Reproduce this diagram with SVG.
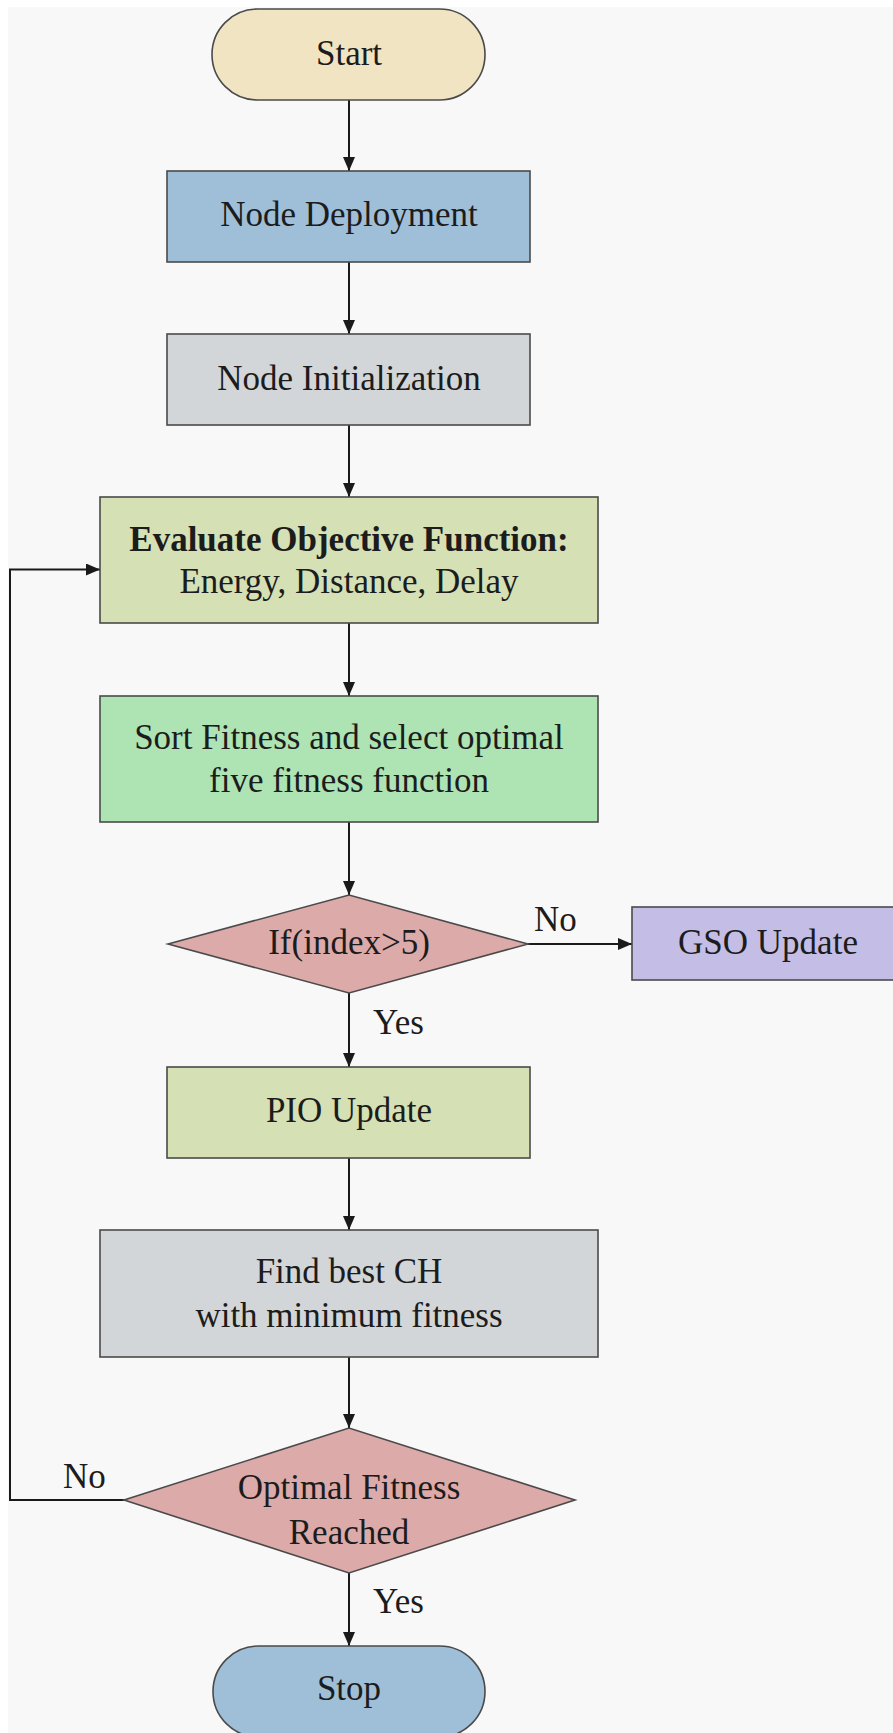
<svg xmlns="http://www.w3.org/2000/svg" width="893" height="1733" viewBox="0 0 893 1733">
  <defs>
    <marker id="arrow" viewBox="0 0 14 12" refX="14" refY="6" markerWidth="14" markerHeight="12" markerUnits="userSpaceOnUse" orient="auto">
      <path d="M0,0 L14,6 L0,12 Z" fill="#1a1a1a"/>
    </marker>
    <style>
      .box { stroke: #4a4a4a; stroke-width: 1.6; }
      .lbl { font-family: "Liberation Serif", "Times New Roman", serif; font-size: 35px; fill: #1c1c1c; text-anchor: middle; }
      .tag { font-family: "Liberation Serif", "Times New Roman", serif; font-size: 35px; fill: #1c1c1c; }
      .bold { font-weight: bold; }
      .edge { fill: none; stroke: #1a1a1a; stroke-width: 2; marker-end: url(#arrow); }
      .cream { fill: #F0E4C2; }
      .blue { fill: #9FBFD8; }
      .grey { fill: #D3D6D8; }
      .olive { fill: #D5E0B5; }
      .mint { fill: #AEE3B4; }
      .rose { fill: #DDAAAA; }
      .lilac { fill: #C4BEE6; }
    </style>
  </defs>

  <!-- page background: white margin on top and left, light grey sheet -->
  <rect x="0" y="0" width="893" height="1733" fill="#FFFFFF"/>
  <rect x="8" y="7" width="885" height="1726" fill="#F8F8F8"/>

  <!-- connectors -->
  <g id="connectors">
    <path class="edge" d="M349,100 L349,171"/>
    <path class="edge" d="M349,262 L349,334"/>
    <path class="edge" d="M349,425 L349,497"/>
    <path class="edge" d="M349,623 L349,696"/>
    <path class="edge" d="M349,822 L349,895"/>
    <path class="edge" d="M528,944 L632,944"/>
    <path class="edge" d="M349,993 L349,1067"/>
    <path class="edge" d="M349,1158 L349,1230"/>
    <path class="edge" d="M349,1357 L349,1428"/>
    <path class="edge" d="M349,1573 L349,1646"/>
    <path class="edge" d="M124,1500 L10,1500 L10,569.5 L100,569.5"/>
    <text class="tag" x="534" y="931">No</text>
    <text class="tag" x="373" y="1034">Yes</text>
    <text class="tag" x="63" y="1488">No</text>
    <text class="tag" x="373" y="1613">Yes</text>
  </g>

  <g id="start">
    <rect class="box cream" x="212" y="9" width="273" height="91" rx="45.5" ry="45.5"/>
    <text class="lbl" x="349" y="65">Start</text>
  </g>

  <g id="node-deployment">
    <rect class="box blue" x="167" y="171" width="363" height="91"/>
    <text class="lbl" x="349" y="226">Node Deployment</text>
  </g>

  <g id="node-initialization">
    <rect class="box grey" x="167" y="334" width="363" height="91"/>
    <text class="lbl" x="349" y="390">Node Initialization</text>
  </g>

  <g id="evaluate">
    <rect class="box olive" x="100" y="497" width="498" height="126"/>
    <text class="lbl bold" x="349" y="551">Evaluate Objective Function:</text>
    <text class="lbl" x="349" y="593">Energy, Distance, Delay</text>
  </g>

  <g id="sort-fitness">
    <rect class="box mint" x="100" y="696" width="498" height="126"/>
    <text class="lbl" x="349" y="749">Sort Fitness and select optimal</text>
    <text class="lbl" x="349" y="792">five fitness function</text>
  </g>

  <g id="index-check">
    <polygon class="box rose" points="168,944 349,895 528,944 349,993"/>
    <text class="lbl" x="349" y="954">If(index&gt;5)</text>
  </g>

  <g id="gso-update">
    <rect class="box lilac" x="632" y="907" width="270" height="73"/>
    <text class="lbl" x="768" y="954">GSO Update</text>
  </g>

  <g id="pio-update">
    <rect class="box olive" x="167" y="1067" width="363" height="91"/>
    <text class="lbl" x="349" y="1122">PIO Update</text>
  </g>

  <g id="find-best-ch">
    <rect class="box grey" x="100" y="1230" width="498" height="127"/>
    <text class="lbl" x="349" y="1283">Find best CH</text>
    <text class="lbl" x="349" y="1327">with minimum fitness</text>
  </g>

  <g id="optimal-check">
    <polygon class="box rose" points="124,1500 349,1428 575,1500 349,1573"/>
    <text class="lbl" x="349" y="1499">Optimal Fitness</text>
    <text class="lbl" x="349" y="1544">Reached</text>
  </g>

  <g id="stop">
    <rect class="box blue" x="213" y="1646" width="272" height="91" rx="45.5" ry="45.5"/>
    <text class="lbl" x="349" y="1700">Stop</text>
  </g>
</svg>
